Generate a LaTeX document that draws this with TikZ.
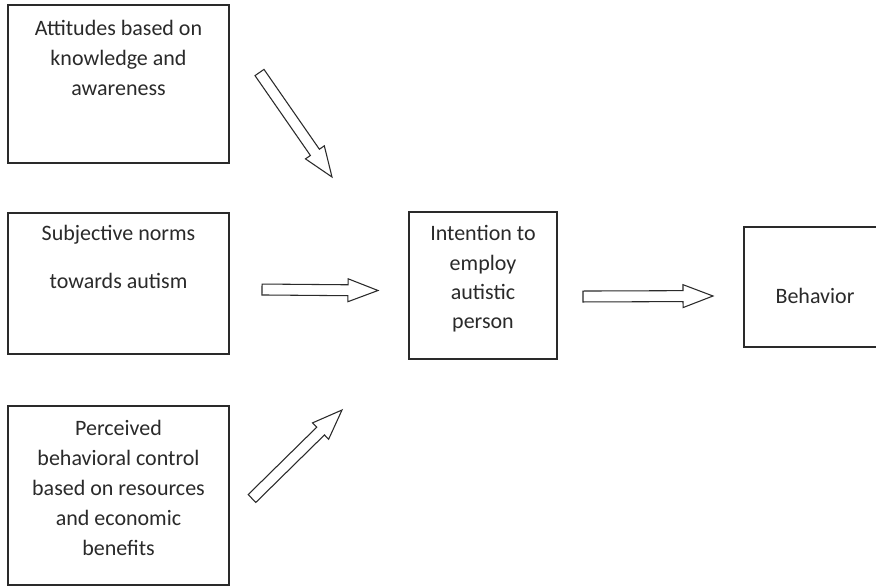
\documentclass[tikz,border=0pt]{standalone}
\usepackage{fontspec}
\setmainfont{Carlito}
\usetikzlibrary{calc}
\definecolor{ink}{HTML}{2A2A2A}
\tikzset{
  box/.style={draw=ink, line width=1.1pt, rectangle, inner sep=0pt},
  lbl/.style={text=ink, align=center, font=\fontsize{16.5}{22.5}\selectfont, inner sep=0pt},
  barrow/.style={draw=ink, line width=0.8pt, fill=white, line join=miter}
}
\newcommand{\blockarrow}[2]{%
  \draw[barrow] ($(#1)!4.1pt!90:(#2)$) --
    ($($(#2)!22.5pt!(#1)$)!4.1pt!-90:(#1)$) --
    ($($(#2)!22.5pt!(#1)$)!8.6pt!-90:(#1)$) --
    (#2) --
    ($($(#2)!22.5pt!(#1)$)!8.6pt!90:(#1)$) --
    ($($(#2)!22.5pt!(#1)$)!4.1pt!90:(#1)$) --
    ($(#1)!4.1pt!-90:(#2)$) -- cycle;}
\begin{document}
\begin{tikzpicture}[x=0.75pt, y=-0.75pt]
\clip (0,0) rectangle (876,586);
\fill[white] (0,0) rectangle (876,586);
% boxes
\node[box, minimum width=165.75pt, minimum height=118.5pt] (att) at (118.5,84) {};
\node[box, minimum width=165.75pt, minimum height=105.75pt] (sn) at (118.5,283.5) {};
\node[box, minimum width=165.75pt, minimum height=134.25pt] (pbc) at (118.5,495.5) {};
\node[box, minimum width=111pt, minimum height=110.25pt] (int) at (483,285.5) {};
\node[box, minimum width=106.5pt, minimum height=90pt] (beh) at (815,287) {};
% texts
\node[lbl] (attT) at (118.5,58) {Attitudes based on\\knowledge and\\awareness};
\node[lbl] (snT1) at (118.5,235) {Subjective norms};
\node[lbl] (snT2) at (118.5,281) {towards autism};
\node[lbl] (pbcT) at (118.5,487.5) {Perceived\\behavioral control\\based on resources\\and economic\\benefits};
\node[lbl, font=\fontsize{16.5}{22}\selectfont] (intT) at (483,279) {Intention to\\employ\\autistic\\person};
\node[lbl] (behT) at (815,296) {Behavior};
% arrows
\coordinate (a1s) at (259.5,72.5);
\coordinate (a1e) at (332,177);
\coordinate (a2s) at (262,289.5);
\coordinate (a2e) at (378,290.5);
\coordinate (a3s) at (252,498.5);
\coordinate (a3e) at (342,410);
\coordinate (a4s) at (583,296.5);
\coordinate (a4e) at (713,296);
\blockarrow{a1s}{a1e}
\blockarrow{a2s}{a2e}
\blockarrow{a3s}{a3e}
\blockarrow{a4s}{a4e}
\end{tikzpicture}
\end{document}
